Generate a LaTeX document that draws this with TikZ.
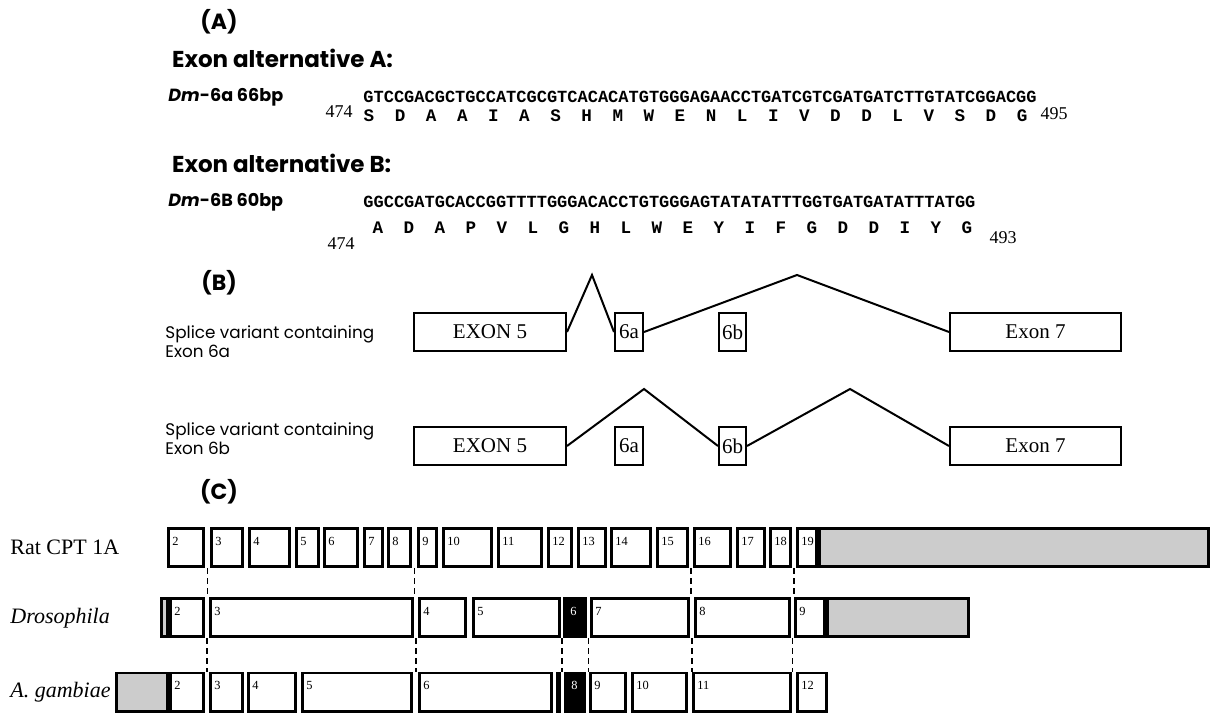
\documentclass[tikz,border=0pt]{standalone}
\usepackage{fontspec}
\setmainfont{Liberation Serif}
\newfontfamily\popfont{Poppins}
\newfontfamily\seqfont{Liberation Mono}
\usetikzlibrary{calc}

\begin{document}
\begin{tikzpicture}[
  x=0.5pt,y=-0.5pt,
  tag/.style={font=\popfont\bfseries\fontsize{11}{13}\selectfont},
  hd/.style={anchor=west,font=\popfont\bfseries\fontsize{11.5}{13}\selectfont},
  seqname/.style={anchor=west,inner sep=0pt,font=\popfont\bfseries\fontsize{8.8}{10}\selectfont},
  seq/.style={anchor=west,inner sep=0pt,font=\seqfont\bfseries\fontsize{8.5}{10}\selectfont},
  aa/.style={inner sep=0pt,font=\seqfont\bfseries\fontsize{8.8}{10}\selectfont},
  resnum/.style={inner sep=0pt,font=\fontsize{9}{10}\selectfont},
  vlab/.style={anchor=west,align=left,inner sep=0pt,font=\popfont\fontsize{8.4}{9.5}\selectfont},
  bx/.style={draw,line width=1pt,inner sep=0pt,minimum height=19pt,font=\fontsize{10.5}{12}\selectfont},
  splice/.style={line width=1pt},
  rowlab/.style={anchor=west,inner sep=0pt,font=\fontsize{11}{13}\selectfont},
  ex/.style={draw,line width=1.4pt,inner sep=0pt,minimum height=19.1pt},
  exn/.style={anchor=west,inner sep=0pt,font=\fontsize{6.2}{7}\selectfont},
  guide/.style={line width=0.6pt,dash pattern=on 3pt off 2pt}
]
\useasboundingbox (0,0) rectangle (1213,716);

% ---- (A) sequences ----
\node[tag] (tagA) at (219,22) {(A)};
\node[hd] (hdA) at (165,58) {Exon alternative A:};
\node[seqname] (nmA) at (168,97) {\itshape Dm\upshape-6a 66bp};
\node[seq] (sqA) at (363,97) {GTCCGACGCTGCCATCGCGTCACACATGTGGGAGAACCTGATCGTCGATGATCTTGTATCGGACGG};
\foreach \a [count=\i from 0] in {S,D,A,A,I,A,S,H,M,W,E,N,L,I,V,D,D,L,V,S,D,G}
  {\node[aa] (aaA-\i) at ({369+31.1*\i},116) {\a};}
\node[resnum] (stA) at (339,112) {474};
\node[resnum] (enA) at (1054,114) {495};

\node[hd] (hdB) at (165,163) {Exon alternative B:};
\node[seqname] (nmB) at (168,202) {\itshape Dm\upshape-6B 60bp};
\node[seq] (sqB) at (363,202) {GGCCGATGCACCGGTTTTGGGACACCTGTGGGAGTATATATTTGGTGATGATATTTATGG};
\foreach \a [count=\i from 0] in {A,D,A,P,V,L,G,H,L,W,E,Y,I,F,G,D,D,I,Y,G}
  {\node[aa] (aaB-\i) at ({378+31*\i},228) {\a};}
\node[resnum] (stB) at (341,244) {474};
\node[resnum] (enB) at (1003,238) {493};

% ---- (B) splice variants ----
\node[tag] (tagB) at (219,283) {(B)};
\node[vlab] (varA) at (165,342) {Splice variant containing\\Exon 6a};
\node[bx,minimum width=76pt] (e5a) at (490,332) {EXON 5};
\node[bx,minimum width=14pt] (e6aa) at (629,332) {6a};
\node[bx,minimum width=13.5pt] (e6ba) at (732.5,332) {6b};
\node[bx,minimum width=85.5pt] (e7a) at (1035.5,332) {Exon 7};
\coordinate (pkA1) at (592,275);
\coordinate (pkA2) at (797,275);
\draw[splice] (e5a.east) -- (pkA1) -- (e6aa.west);
\draw[splice] (e6aa.east) -- (pkA2) -- (e7a.west);

\node[vlab] (varB) at (165,439) {Splice variant containing\\Exon 6b};
\node[bx,minimum width=76pt] (e5b) at (490,446) {EXON 5};
\node[bx,minimum width=14pt] (e6ab) at (629,446) {6a};
\node[bx,minimum width=13.5pt] (e6bb) at (732.5,446) {6b};
\node[bx,minimum width=85.5pt] (e7b) at (1035.5,446) {Exon 7};
\coordinate (pkB1) at (644,389);
\coordinate (pkB2) at (850,389);
\draw[splice] (e5b.east) -- (pkB1) -- (e6bb.west);
\draw[splice] (e6bb.east) -- (pkB2) -- (e7b.west);

% ---- (C) exon maps ----
\node[tag] (tagC) at (219,492) {(C)};
\node[rowlab] (ratlab) at (10,547) {Rat CPT 1A};
\node[rowlab] (drolab) at (10,618) {\itshape Drosophila};
\node[rowlab] (anglab) at (10,692) {\itshape A. gambiae};

% rat
\foreach \s/\e/\l in {167/205/2,210/244/3,248/291/4,295/320/5,323/359/6,363/384/7,387/412/8,
    417/438/9,442/493/10,497/543/11,547/573/12,577/607/13,610/652/14,656/689/15,693/732/16,
    736/766/17,769/792/18,796/818/19} {
  \pgfmathsetmacro\w{(\e-\s)*0.5-1.4}
  \node[ex,minimum width=\w pt] (rat-\l) at ({(\s+\e)/2},547.5) {};
  \node[exn] at ([shift={(5,14)}]rat-\l.north west) {\l};
}
\node[ex,fill=gray!40,minimum width=194.6pt] (rat-utr) at (1014,547.5) {};

% drosophila
\node[ex,fill=gray!40,minimum width=3.1pt] (dro-utr5) at (164.5,617.5) {};
\foreach \s/\e/\l in {169/205/2,209/414/3,418/467/4,472/561/5,590/690/7,694/791/8,794/826/9} {
  \pgfmathsetmacro\w{(\e-\s)*0.5-1.4}
  \node[ex,minimum width=\w pt] (dro-\l) at ({(\s+\e)/2},617.5) {};
  \node[exn] at ([shift={(5,14)}]dro-\l.north west) {\l};
}
\node[ex,fill=black,minimum width=10.6pt] (dro-6) at (575,617.5) {};
\node[exn,text=white] at ([shift={(7,14)}]dro-6.north west) {6};
\node[ex,fill=gray!40,minimum width=70.6pt] (dro-utr) at (898,617.5) {};

% anopheles
\node[ex,fill=gray!40,minimum width=25.6pt] (ang-utr) at (142,692) {};
\foreach \s/\e/\l in {169/205/2,209/244/3,247/297/4,301/413/5,418/553/6,589/627/9,631/688/10,
    692/792/11,796/828/12} {
  \pgfmathsetmacro\w{(\e-\s)*0.5-1.4}
  \node[ex,minimum width=\w pt] (ang-\l) at ({(\s+\e)/2},692) {};
  \node[exn] at ([shift={(5,14)}]ang-\l.north west) {\l};
}
\node[ex,minimum width=1.2pt] (ang-7) at (558.5,692) {};
\node[ex,fill=black,minimum width=9.6pt] (ang-8) at (575,692) {};
\node[exn,text=white] at ([shift={(7,14)}]ang-8.north west) {8};

% dashed guides
\foreach \a/\b/\c in {rat-2/rat-3/dro-3,rat-8/rat-9/dro-4,rat-15/rat-16/dro-8,rat-18/rat-19/dro-9}
  {\draw[guide] ($(\a.south east)!.5!(\b.south west)$) coordinate (g) -- (g |- \c.north);}
\foreach \a/\b/\c in {dro-2/dro-3/ang-3,dro-3/dro-4/ang-6,dro-5/dro-6/ang-8,dro-6/dro-7/ang-9,
    dro-7/dro-8/ang-11,dro-8/dro-9/ang-12}
  {\draw[guide] ($(\a.south east)!.5!(\b.south west)$) coordinate (g) -- (g |- \c.north);}
\end{tikzpicture}
\end{document}
